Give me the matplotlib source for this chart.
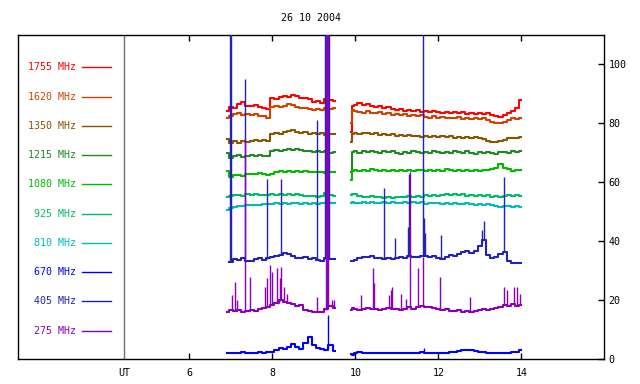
import numpy as np
import matplotlib
matplotlib.use("Agg")
import matplotlib.pyplot as plt

plt.rcParams['font.family'] = ['DejaVu Sans Mono']

title = "26 10 2004"
freq_labels = ["1755 MHz", "1620 MHz", "1350 MHz", "1215 MHz", "1080 MHz",
               "925 MHz", "810 MHz", "670 MHz", "405 MHz", "275 MHz"]
colors = ["#ff0000", "#cc4400", "#885500", "#228822", "#00bb00",
          "#00bb66", "#00bbbb", "#0000ff", "#2222bb", "#8800bb"]
xtick_pos = [4.43, 6, 8, 10, 12, 14]
xtick_lab = ["UT", "6", "8", "10", "12", "14"]
ytick_pos = [0, 20, 40, 60, 80, 100]

# time samples (UT hours)
t1 = [6.9, 7.0, 7.1, 7.2, 7.3, 7.4, 7.5, 7.6, 7.7, 7.8, 7.9, 8.0, 8.1, 8.2, 8.3,
      8.4, 8.5, 8.6, 8.7, 8.8, 8.9, 9.0, 9.1, 9.2, 9.3, 9.4, 9.5]
t2 = [9.9, 9.93, 10.0, 10.1, 10.2, 10.3, 10.4, 10.5, 10.6, 10.7, 10.8, 10.9,
      11.0, 11.1, 11.2, 11.3, 11.4, 11.5, 11.6, 11.7, 11.8, 11.9,
      12.0, 12.1, 12.2, 12.3, 12.4, 12.5, 12.6, 12.7, 12.8, 12.9,
      13.0, 13.1, 13.2, 13.3, 13.4, 13.5, 13.6, 13.7, 13.8, 13.9, 14.0]

f1755_a = [84.2, 85.6, 85.4, 86.5, 87.4, 86.0, 85.9, 86.2, 85.6, 85.1, 85.0, 88.6, 88.3, 88.9,
           89.3, 89.1, 89.8, 89.4, 88.6, 88.7, 88.4, 87.3, 87.6, 87.0, 88.3, 87.9, 87.6]
f1755_b = [77.0, 86.0, 86.4, 86.8, 86.3, 86.6, 86.0, 85.7, 85.9, 85.4, 85.6, 84.9,
           84.6, 84.9, 84.3, 84.6, 84.1, 84.4, 84.0, 84.3, 83.8, 84.2,
           83.9, 83.5, 84.0, 83.6, 83.9, 83.4, 83.8, 83.3, 83.6, 83.2,
           83.5, 83.1, 83.4, 83.0, 82.6, 82.3, 83.0, 83.6, 84.3, 85.2, 88.0]

f1620_a = [82.0, 82.6, 83.2, 83.5, 83.0, 83.3, 82.9, 83.1, 82.6, 82.4, 81.8, 85.5, 85.8, 85.6,
           86.0, 86.6, 86.3, 85.6, 85.2, 85.4, 84.8, 84.5, 84.9, 84.4, 85.3, 84.8, 85.1]
f1620_b = [80.0, 84.6, 84.3, 84.0, 83.6, 84.1, 83.7, 83.4, 83.8, 83.3, 83.6, 83.0,
           83.3, 82.8, 83.1, 82.6, 82.9, 82.4, 82.7, 82.2, 82.0, 82.4,
           81.9, 82.2, 81.7, 82.0, 81.8, 82.1, 81.6, 81.9, 81.5, 81.8,
           81.4, 81.7, 81.2, 80.6, 80.2, 80.0, 80.6, 81.3, 81.9, 81.5, 81.8]

f1350_a = [74.8, 73.5, 73.9, 73.4, 74.0, 73.7, 74.2, 74.4, 74.0, 74.3, 73.9, 76.4, 76.8, 76.5,
           77.0, 77.5, 77.8, 77.2, 76.9, 77.1, 76.5, 76.8, 76.3, 76.6, 76.2, 76.5, 76.3]
f1350_b = [73.8, 76.4, 76.8, 76.5, 76.9, 76.6, 76.4, 76.7, 76.2, 76.5, 76.0, 76.3,
           75.9, 76.2, 75.7, 76.0, 75.6, 75.9, 75.4, 75.8, 75.3, 75.7,
           75.4, 75.7, 75.3, 75.6, 75.2, 75.5, 75.1, 75.4, 75.0, 75.3,
           74.9, 74.6, 74.2, 73.8, 73.6, 74.1, 74.5, 74.9, 75.2, 74.9, 75.3]

f1215_a = [70.0, 68.4, 68.8, 69.2, 68.6, 69.0, 69.3, 68.9, 69.4, 69.0, 68.8, 70.6, 70.9, 70.5,
           71.0, 71.3, 70.9, 71.4, 71.0, 70.6, 70.8, 70.3, 70.6, 70.2, 70.5, 70.1, 70.4]
f1215_b = [63.6, 70.2, 70.5, 70.1, 70.6, 70.2, 70.7, 70.3, 70.0, 70.5, 70.2, 70.6,
           70.1, 69.8, 70.4, 70.0, 70.5, 70.2, 69.9, 70.4, 70.1, 70.6,
           70.2, 69.9, 70.4, 70.1, 70.6, 70.2, 70.0, 70.5, 70.1, 69.8,
           70.3, 70.0, 70.4, 70.1, 69.8, 70.2, 70.4, 70.1, 70.6, 70.3, 70.7]

f1080_a = [64.0, 62.0, 62.4, 62.6, 62.3, 62.7, 63.0, 62.8, 63.1, 63.0, 62.6, 63.0, 63.5, 63.8,
           63.6, 63.9, 63.7, 63.8, 63.6, 63.9, 63.5, 63.7, 63.4, 63.6, 63.3, 63.5, 63.4]
f1080_b = [60.8, 64.0, 64.3, 63.9, 64.2, 64.0, 64.4, 64.1, 63.8, 64.2, 63.9, 64.3,
           64.0, 64.3, 63.9, 64.2, 63.8, 64.1, 64.3, 64.0, 64.3, 63.9,
           64.2, 64.0, 64.4, 64.1, 63.8, 64.2, 63.9, 64.3, 64.0, 64.2,
           64.0, 64.3, 64.1, 64.5, 64.9, 66.2, 65.0, 64.6, 64.0, 64.3, 64.1]

f925_a = [55.0, 55.3, 55.6, 55.8, 55.5, 55.9, 55.7, 55.9, 55.6, 55.8, 55.6, 55.9, 55.7, 55.9,
          55.6, 55.9, 55.8, 56.0, 55.7, 55.5, 55.3, 55.4, 55.2, 55.5, 56.5, 55.6, 55.5]
f925_b = [55.8, 56.0, 55.9, 55.5, 55.2, 55.0, 55.3, 54.9, 55.1, 54.8, 55.0, 54.8,
          55.1, 54.9, 55.0, 55.3, 55.0, 55.4, 55.2, 55.6, 55.3, 55.7,
          55.5, 55.8, 56.0, 55.8, 56.1, 55.7, 55.9, 55.5, 55.8, 55.4,
          55.7, 55.3, 55.6, 55.2, 55.5, 55.1, 55.4, 55.6, 55.3, 55.6, 55.4]

f810_a = [50.8, 51.3, 51.6, 51.9, 52.0, 52.2, 52.3, 52.5, 52.4, 52.7, 52.6, 52.8, 52.9, 52.7,
          53.0, 52.8, 53.0, 52.9, 52.8, 53.0, 52.8, 52.9, 52.7, 52.9, 53.0, 53.1, 53.1]
f810_b = [53.0, 53.2, 53.1, 52.9, 53.2, 53.0, 53.3, 53.1, 52.9, 53.2, 53.0, 53.3,
          53.1, 52.9, 53.2, 53.0, 53.2, 53.0, 53.3, 52.8, 53.1, 52.9,
          53.1, 52.8, 53.0, 52.7, 52.9, 52.8, 52.6, 52.9, 52.7, 52.5,
          52.7, 52.4, 52.6, 52.3, 52.0, 51.7, 51.9, 52.0, 51.8, 51.9, 51.8]

f670_a = [2.2, 2.0, 2.3, 2.1, 2.4, 2.2, 2.0, 2.3, 2.4, 2.2, 2.5, 2.6, 3.0, 3.9,
          3.6, 4.3, 5.2, 4.2, 3.4, 5.5, 7.6, 5.0, 4.0, 3.4, 3.2, 5.0, 2.9]
f670_b = [1.8, 1.5, 2.2, 2.4, 2.3, 2.1, 2.3, 2.0, 2.2, 2.1, 2.0, 2.2,
          2.0, 2.1, 2.3, 2.0, 2.2, 2.1, 2.4, 2.2, 2.0, 2.1,
          2.0, 2.1, 2.2, 2.4, 2.5, 2.8, 3.1, 3.3, 3.0, 2.8,
          2.6, 2.4, 2.3, 2.2, 2.2, 2.1, 2.3, 2.2, 2.4, 2.6, 3.0]

f405_a = [np.nan, 33.0, 34.0, 33.6, 34.2, 33.5, 33.3, 34.0, 34.4, 33.8, 34.3, 34.6, 35.0, 35.4,
          36.2, 35.8, 35.2, 34.5, 34.2, 34.6, 34.0, 34.3, 33.8, 33.5, 34.4, 34.0, 34.1]
f405_b = [33.2, 33.5, 33.7, 34.2, 34.8, 34.6, 34.9, 34.3, 34.5, 34.0, 34.3, 34.0,
          34.4, 34.7, 34.5, 35.0, 34.6, 34.8, 35.2, 35.0, 34.8, 35.1,
          34.3, 34.0, 34.6, 35.4, 35.0, 35.6, 36.3, 36.8, 36.2, 36.6,
          38.5, 40.5, 35.5, 34.3, 34.8, 35.6, 36.5, 33.2, 32.8, 32.6, 32.7]

f275_a = [16.2, 16.8, 16.3, 16.6, 16.2, 16.5, 16.8, 16.4, 17.2, 17.5, 17.8, 18.5, 19.2, 20.0,
          19.5, 19.0, 18.6, 18.0, 18.4, 16.8, 16.4, 16.0, 16.2, 15.9, 17.0, 18.0, 17.5]
f275_b = [16.8, 17.5, 17.2, 16.8, 17.0, 17.3, 16.9, 17.1, 16.7, 17.0, 17.3, 16.9,
          17.1, 16.8, 17.2, 17.6, 17.0, 17.8, 18.2, 17.6, 17.9, 17.5,
          17.2, 16.8, 17.0, 16.5, 16.3, 16.6, 16.2, 16.4, 16.0, 16.3,
          16.7, 17.0, 16.6, 16.9, 17.3, 17.8, 18.4, 18.0, 18.6, 18.2, 18.5]

# bursts: (time, peak value)
spikes_1080 = [(9.33, 70.0)]
spikes_925 = [(9.33, 60.0)]
spikes_810 = [(9.35, 56.0), (11.62, 57.0)]
spikes_670 = [(9.33, 15.0), (11.65, 4.0)]
spikes_405 = [(6.97, 115), (7.0, 115), (7.34, 95), (7.87, 61), (8.2, 61), (9.07, 81),
              (9.27, 115), (9.36, 115),
              (10.7, 58), (11.27, 45), (11.3, 63), (11.62, 115), (11.66, 48), (11.68, 43),
              (10.96, 41), (12.06, 42), (13.05, 44), (13.1, 47), (13.58, 62)]
spikes_275 = [(7.03, 21.8), (7.1, 26.3), (7.16, 20), (7.34, 75), (7.46, 28), (7.82, 24.6),
              (7.87, 27.6), (7.95, 32), (8.0, 29.7), (8.11, 31), (8.19, 27.6), (8.2, 31.2),
              (8.28, 24.6), (8.35, 22), (9.07, 21), (9.29, 115), (9.31, 115), (9.33, 115),
              (9.43, 20), (9.49, 20),
              (10.14, 21.8), (10.42, 30.8), (10.45, 26), (10.8, 21.9), (10.85, 23.5),
              (10.88, 24.4), (11.1, 22), (11.22, 20.5), (11.31, 63.6), (11.52, 30.8),
              (11.64, 34.8), (12.03, 27.8), (12.77, 21.1), (13.58, 24.4), (13.66, 23.6),
              (13.82, 24.4), (13.9, 24.4), (13.98, 22)]

series = [
    (f1755_a, f1755_b, []),
    (f1620_a, f1620_b, []),
    (f1350_a, f1350_b, []),
    (f1215_a, f1215_b, []),
    (f1080_a, f1080_b, spikes_1080),
    (f925_a, f925_b, spikes_925),
    (f810_a, f810_b, spikes_810),
    (f670_a, f670_b, spikes_670),
    (f405_a, f405_b, spikes_405),
    (f275_a, f275_b, spikes_275),
]

fig = plt.figure(figsize=(6.4, 3.84), dpi=100)
ax = fig.add_axes([18 / 640, 24.7 / 384, 586.3 / 640, 324.3 / 384])
ax.set_xlim(1.87, 16.0)
ax.set_ylim(0, 110)

ax.axvline(4.43, color="#707070", lw=1.0, zorder=1)

for i in range(len(series)):
    a, b, spk = series[i]
    c = colors[i]
    for tt, vv in ((t1, a), (t2, b)):
        ax.plot(tt, vv, color=c, lw=1.5, drawstyle="steps-mid", zorder=2 + i * 0.1)
    for (ts, top) in spk:
        tt, vv = (t1, a) if ts < 9.7 else (t2, b)
        tt = np.asarray(tt, float)
        vv = np.asarray(vv, float)
        m = ~np.isnan(vv)
        base = np.interp(ts, tt[m], vv[m])
        ax.vlines(ts, base, top, color=c, lw=1.0, zorder=2 + i * 0.1)

# legend-like labels
for i, lab in enumerate(freq_labels):
    y = 99.0 - 9.92 * i
    ax.text(3.26, y, lab, color=colors[i], fontsize=7.2, ha="right", va="center")
    ax.plot([3.41, 4.11], [y, y], color=colors[i], lw=1.0)

ax.set_xticks(xtick_pos)
ax.set_xticklabels(xtick_lab)
ax.tick_params(axis="x", direction="in", length=4, width=1, top=True, labeltop=False,
               labelsize=7.2, pad=6)
ax.yaxis.tick_right()
ax.set_yticks(ytick_pos)
ax.tick_params(axis="y", direction="in", length=4, width=1, labelsize=7.2, pad=3)
ax.xaxis.get_major_ticks()[0].tick1line.set_visible(False)
ax.xaxis.get_major_ticks()[0].tick2line.set_visible(False)
for s in ax.spines.values():
    s.set_linewidth(1.0)
    s.set_color("black")

fig.text(311 / 640, 1 - 18 / 384, title, ha="center", va="center", fontsize=7.2)

fig.savefig("out.png", dpi=100)
